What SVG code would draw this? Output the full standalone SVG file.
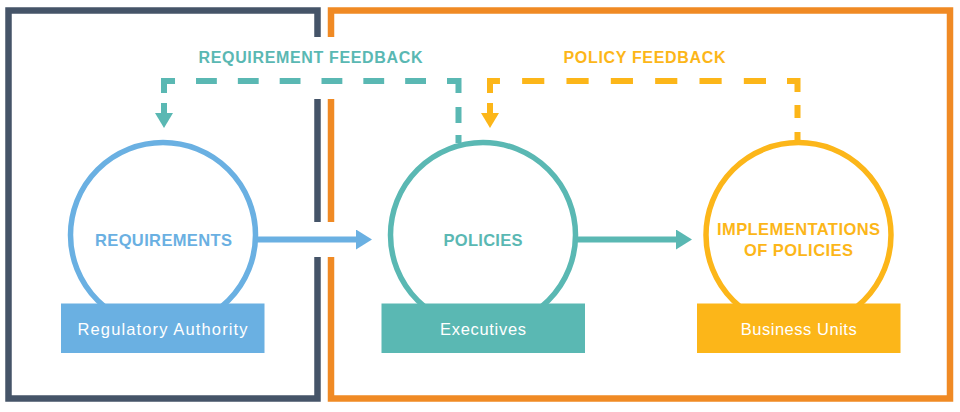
<svg xmlns="http://www.w3.org/2000/svg" width="960" height="412" viewBox="0 0 960 412">
<defs>
<style>
.frame{fill:none;stroke-width:6.5;stroke-linejoin:miter;stroke-linecap:butt}
.ring{fill:#fff;stroke-width:5.5}
.flow{fill:none;stroke-width:6}
.fb{fill:none;stroke-width:6;stroke-linejoin:miter;stroke-linecap:butt}
.hd{font-family:"Liberation Sans",Arial,sans-serif;font-weight:bold;font-size:16.5px;text-anchor:middle}
.lb{font-family:"Liberation Sans",Arial,sans-serif;font-size:16.5px;fill:#fff;text-anchor:middle}
.fbt{font-family:"Liberation Sans",Arial,sans-serif;font-weight:bold;font-size:16px;text-anchor:middle}
</style>
<marker id="hBlue" markerUnits="userSpaceOnUse" viewBox="0 0 16 20" markerWidth="16" markerHeight="20" refX="1" refY="10" orient="auto"><path d="M0,0 L16,10 L0,20 z" fill="#6ab0e2"/></marker>
<marker id="hTeal" markerUnits="userSpaceOnUse" viewBox="0 0 16 20" markerWidth="16" markerHeight="20" refX="1" refY="10" orient="auto"><path d="M0,0 L16,10 L0,20 z" fill="#5ab8b3"/></marker>
<marker id="dTeal" markerUnits="userSpaceOnUse" viewBox="0 0 15 18" markerWidth="15" markerHeight="18" refX="0" refY="9" orient="auto"><path d="M0,0 L15,9 L0,18 z" fill="#5ab8b3"/></marker>
<marker id="dYellow" markerUnits="userSpaceOnUse" viewBox="0 0 15 18" markerWidth="15" markerHeight="18" refX="0" refY="9" orient="auto"><path d="M0,0 L15,9 L0,18 z" fill="#fcb619"/></marker>
</defs>
<rect width="960" height="412" fill="#fff"/>
<g id="frames">
<path class="frame" stroke="#455468" d="M317.5,37 V10.5 H8.5 V398.5 H317.5 V257 M317.5,222 V99"/>
<path class="frame" stroke="#f08a24" d="M331,37 V10.5 H950 V398.5 H331 V257 M331,222 V99"/>
</g>
<g id="node-requirements">
<circle class="ring" cx="163" cy="235" r="92.5" stroke="#6ab0e2"/>
<text class="hd" x="163.5" y="245.7" fill="#6ab0e2" textLength="137" lengthAdjust="spacing">REQUIREMENTS</text>
<rect x="61" y="303.5" width="203.5" height="49.5" fill="#6ab0e2"/>
<text class="lb" x="162.5" y="335.3" textLength="170" lengthAdjust="spacing">Regulatory Authority</text>
</g>
<g id="node-policies">
<circle class="ring" cx="483" cy="235" r="92.5" stroke="#5ab8b3"/>
<text class="hd" x="483" y="245.7" fill="#5ab8b3" textLength="79" lengthAdjust="spacing">POLICIES</text>
<rect x="381.5" y="303.5" width="203.5" height="49.5" fill="#5ab8b3"/>
<text class="lb" x="483" y="335.3" textLength="86" lengthAdjust="spacing">Executives</text>
</g>
<g id="node-implementations">
<circle class="ring" cx="798.5" cy="235" r="92.5" stroke="#fcb619"/>
<text class="hd" x="798.5" y="235" fill="#fcb619" textLength="163" lengthAdjust="spacing">IMPLEMENTATIONS</text>
<text class="hd" x="798.5" y="256" fill="#fcb619" textLength="109" lengthAdjust="spacing">OF POLICIES</text>
<rect x="697" y="303.5" width="203.5" height="49.5" fill="#fcb619"/>
<text class="lb" x="798.7" y="335.3" textLength="116" lengthAdjust="spacing">Business Units</text>
</g>
<g id="connectors">
<path class="flow" stroke="#6ab0e2" d="M255,239.5 H357" marker-end="url(#hBlue)"/>
<path class="flow" stroke="#5ab8b3" d="M575,239.5 H677" marker-end="url(#hTeal)"/>
<path class="fb" stroke="#5ab8b3" stroke-dasharray="8 12 16 14 23.5 21 20.83 21 20.83 21 20.83 21 20.83 21 20.83 21 20.83 21 23 10 10 200" d="M458.5,143 V81 H164 V113" marker-end="url(#dTeal)"/>
<path class="fb" stroke="#fcb619" stroke-dasharray="8 14 13 13 21.5 21 22.17 22.17 22.17 22.17 22.17 22.17 22.17 22.17 22.17 22.17 22.17 22.17 22 10 10 200" d="M797.5,140 V81 H490 V113" marker-end="url(#dYellow)"/>
<text class="fbt" x="310.5" y="63.3" fill="#5ab8b3" textLength="224" lengthAdjust="spacing">REQUIREMENT FEEDBACK</text>
<text class="fbt" x="644.5" y="63.3" fill="#fcb619" textLength="162" lengthAdjust="spacing">POLICY FEEDBACK</text>
</g>
</svg>
